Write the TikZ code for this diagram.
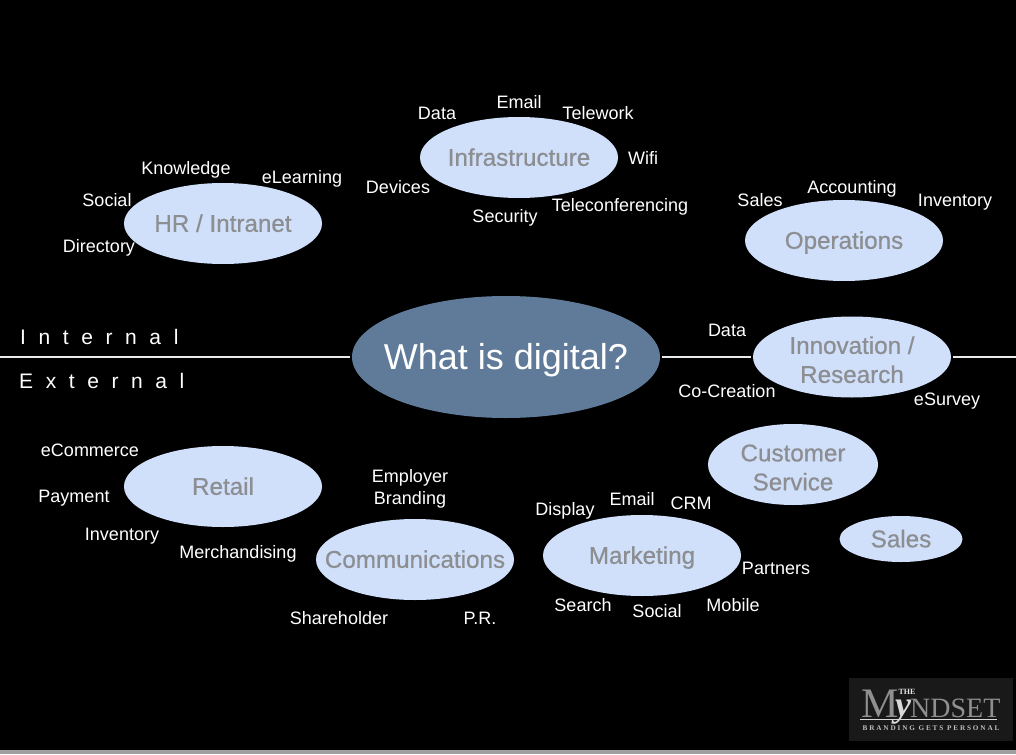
\documentclass[tikz,border=0pt]{standalone}
\usepackage{fontspec}
\setmainfont{Liberation Sans}
\newfontfamily\logofont{Liberation Serif}
\usetikzlibrary{shapes.geometric}
\definecolor{bubble}{HTML}{D0E0FA}
\definecolor{bubbletext}{HTML}{8C8E92}
\definecolor{hub}{HTML}{5F7B99}
\definecolor{logobg}{HTML}{191919}
\definecolor{logotxt}{HTML}{8F8F8F}
\newcommand{\onel}{\rule[-8.7pt]{0pt}{34pt}}
\newcommand{\twol}{\rule{0pt}{23pt}}
\tikzset{
  x=1pt,y=-1pt,
  topic/.style={ellipse,fill=bubble,inner xsep=-45pt,inner ysep=-12pt,minimum width=198pt,minimum height=81pt,align=center,text=bubbletext,font=\fontsize{24.2}{29}\selectfont\addfontfeature{FakeBold=0.7}},
  hubnode/.style={ellipse,fill=hub,inner xsep=-40pt,inner ysep=-5pt,minimum width=308pt,minimum height=122pt,text=white,font=\fontsize{36}{42}\selectfont},
  lbl/.style={text=white,inner sep=0pt,font=\fontsize{18}{22}\selectfont,align=center},
  side/.style={text=white,inner sep=0pt,font=\fontsize{21}{25}\selectfont,anchor=west},
  axis/.style={draw=white!92!black,line width=2.8pt},
  logo/.style={text=logotxt,inner sep=0pt,font=\logofont}
}
\begin{document}
\begin{tikzpicture}
\useasboundingbox (0,0) rectangle (1016,754);
\fill[black] (0,0) rectangle (1016,754);
\fill[gray!75] (0,750) rectangle (1016,754);
% axis
\coordinate (axl) at (0,357);
\coordinate (axr) at (1016,357);
\node[hubnode] (hub) at (506,357) {\rule[-12.6pt]{0pt}{50pt}What is digital?};
\node[topic] (innov) at (852,357) {\twol Innovation /\\Research};
\draw[axis,shorten >=2pt] (axl) -- (hub.west);
\draw[axis,shorten <=2pt,shorten >=2pt] (hub.east) -- (innov.west);
\draw[axis,shorten <=2pt] (innov.east) -- (axr);
% side labels
\node[side] (internal) at (20,337) {\addfontfeature{LetterSpace=60}Internal};
\node[side] (external) at (19,381) {\addfontfeature{LetterSpace=60}External};
% topics
\node[topic] (hr) at (223,223.5) {\onel HR / Intranet};
\node[topic] (infra) at (519,157.5) {\onel Infrastructure};
\node[topic] (ops) at (844,240.5) {\onel Operations};
\node[topic,minimum width=170pt] (cs) at (793,464.5) {\twol Customer\\Service};
\node[topic,minimum width=123pt,minimum height=46pt] (sales) at (901,539) {\onel Sales};
\node[topic] (retail) at (223,486.5) {\onel Retail};
\node[topic] (comm) at (415,559.5) {\onel Communications};
\node[topic] (mkt) at (642,555.5) {\onel Marketing};
% labels
\node[lbl] (l1) at (186,170) {Knowledge};
\node[lbl] (l2) at (302,179) {eLearning};
\node[lbl] (l3) at (107,200) {Social};
\node[lbl] (l4) at (99,248) {Directory};
\node[lbl] (l5) at (437,113) {Data};
\node[lbl] (l6) at (519,102) {Email};
\node[lbl] (l7) at (598,113) {Telework};
\node[lbl] (l8) at (643,158) {Wifi};
\node[lbl] (l9) at (398,187) {Devices};
\node[lbl] (l10) at (505,218) {Security};
\node[lbl] (l11) at (620,207) {Teleconferencing};
\node[lbl] (l12) at (760,200) {Sales};
\node[lbl] (l13) at (852,189) {Accounting};
\node[lbl] (l14) at (955,202) {Inventory};
\node[lbl] (l15) at (727,330) {Data};
\node[lbl] (l16) at (727,391) {Co-Creation};
\node[lbl] (l17) at (947,401) {eSurvey};
\node[lbl] (l18) at (90,450) {eCommerce};
\node[lbl] (l19) at (74,498) {Payment};
\node[lbl] (l20) at (122,536) {Inventory};
\node[lbl] (l21) at (238,554) {Merchandising};
\node[lbl] (l22) at (410,489) {Employer\\Branding};
\node[lbl] (l23) at (339,618) {Shareholder};
\node[lbl] (l24) at (480,618) {P.R.};
\node[lbl] (l25) at (565,511) {Display};
\node[lbl] (l26) at (632,499) {Email};
\node[lbl] (l27) at (691,503) {CRM};
\node[lbl] (l28) at (776,568) {Partners};
\node[lbl] (l29) at (733,605) {Mobile};
\node[lbl] (l30) at (657,611) {Social};
\node[lbl] (l31) at (583,605) {Search};
% logo
\fill[logobg] (849,678) rectangle (1013,741);
\node[logo,font=\logofont\fontsize{42}{42}\selectfont,anchor=base] (lm) at (880,717) {M};
\node[logo,text=white!85!black,font=\logofont\itshape\bfseries\fontsize{36}{36}\selectfont,anchor=base] (ly) at (903,716) {y};
\node[logo,font=\logofont\fontsize{28}{28}\selectfont,anchor=base west] (ln) at (910,717) {NDSET};
\node[logo,text=white!90!black,font=\logofont\bfseries\fontsize{8}{8}\selectfont,anchor=base] (lt) at (907,694) {THE};
\node[logo,text=white!75!black,font=\logofont\bfseries\fontsize{7.2}{8}\selectfont,anchor=base] (lb) at (931,730) {\addfontfeature{LetterSpace=26}BRANDING GETS PERSONAL};
\draw[white!85!black,line width=0.7pt] (860,719) -- (997,719);
\end{tikzpicture}
\end{document}
